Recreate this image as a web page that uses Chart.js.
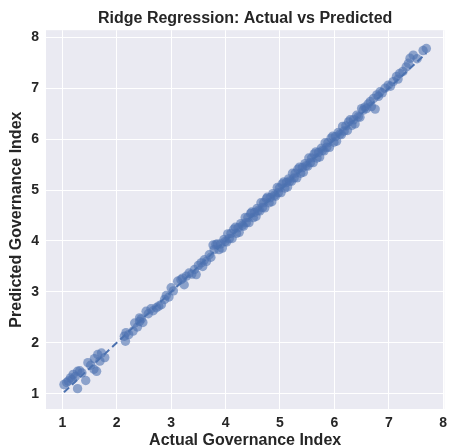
<!DOCTYPE html>
<html>
<head>
<meta charset="utf-8">
<script src="https://cdn.jsdelivr.net/npm/chart.js@4"></script>
<style>
  body { margin: 0; background: #ffffff; }
</style>
</head>
<body>
<canvas id="ridgeChart" width="449" height="448"></canvas>
<script>
// data (aktual vs prediksi)
const actual = [
  1.03, 1.08, 1.11, 1.15, 1.18, 1.2, 1.24, 1.28, 1.32, 1.28, 1.36, 1.43, 1.47, 1.52, 1.58, 1.63, 1.59, 1.65, 1.69, 1.78, 1.72,
  2.14, 2.17, 2.16, 2.22, 2.3, 2.33, 2.38, 2.42, 2.45, 2.48, 2.42,
  2.54, 2.58, 2.63, 2.67, 2.73, 2.77, 2.82, 2.88, 2.91, 2.96, 3.0, 3.04, 3.12, 3.18, 3.24, 3.21, 3.28, 3.33, 3.38, 3.43, 3.46,
  3.5, 3.55, 3.58, 3.61, 3.65, 3.7, 3.73, 3.79, 3.82, 3.77, 3.85, 3.88, 3.91, 3.94, 3.97, 3.99,
  4.02, 4.04, 4.07, 4.1, 4.12, 4.15, 4.18, 4.2, 4.23, 4.25, 4.28, 4.31, 4.33, 4.36, 4.38, 4.41, 4.43, 4.46, 4.48,
  4.51, 4.53, 4.56, 4.58, 4.6, 4.63, 4.65, 4.68, 4.7, 4.72, 4.75, 4.77, 4.8, 4.82, 4.85, 4.87, 4.9, 4.92, 4.95, 4.97, 4.99,
  5.02, 5.04, 5.07, 5.09, 5.12, 5.14, 5.16, 5.18, 5.21, 5.23, 5.26, 5.28, 5.31, 5.33, 5.36, 5.38, 5.41, 5.43, 5.46, 5.48,
  5.51, 5.53, 5.56, 5.58, 5.61, 5.63, 5.66, 5.68, 5.71, 5.73, 5.76, 5.78, 5.81, 5.83, 5.86, 5.88, 5.91, 5.94, 5.97, 5.99,
  6.02, 6.04, 6.07, 6.1, 6.13, 6.15, 6.18, 6.21, 6.24, 6.26, 6.29, 6.32, 6.35, 6.38, 6.41, 6.44, 6.47, 6.5,
  6.53, 6.56, 6.59, 6.62, 6.66, 6.68, 6.72, 6.75, 6.78, 6.81, 6.84, 6.88, 6.93, 6.99,
  7.03, 7.08, 7.14, 7.17, 7.2, 7.26, 7.32, 7.36, 7.39, 7.45, 7.52, 7.63, 7.69
];
const predicted = [
  1.18, 1.22, 1.25, 1.31, 1.28, 1.38, 1.34, 1.44, 1.45, 1.1, 1.41, 1.26, 1.61, 1.56, 1.48, 1.44, 1.69, 1.77, 1.64, 1.71, 1.8,
  2.13, 2.2, 2.03, 2.16, 2.23, 2.39, 2.31, 2.42, 2.47, 2.4, 2.49,
  2.62, 2.57, 2.67, 2.63, 2.69, 2.72, 2.75, 2.85, 2.93, 2.9, 3.08, 3.02, 3.21, 3.24, 3.14, 3.27, 3.31, 3.37, 3.35, 3.44, 3.34,
  3.52, 3.57, 3.5, 3.63, 3.6, 3.73, 3.68, 3.83, 3.93, 3.92, 3.94, 3.83, 3.94, 3.86, 4.03, 3.99,
  3.98, 4.14, 4.05, 4.15, 4.05, 4.23, 4.27, 4.15, 4.26, 4.17, 4.34, 4.31, 4.29, 4.46, 4.36, 4.46, 4.36, 4.54, 4.57,
  4.46, 4.56, 4.48, 4.64, 4.6, 4.59, 4.75, 4.66, 4.75, 4.65, 4.83, 4.86, 4.75, 4.85, 4.77, 4.93, 4.9, 4.88, 5.05, 4.95, 5.04,
  4.95, 5.12, 5.16, 5.04, 5.15, 5.06, 5.22, 5.18, 5.17, 5.33, 5.24, 5.33, 5.24, 5.41, 5.45, 5.33, 5.44, 5.35, 5.52, 5.48,
  5.47, 5.63, 5.54, 5.63, 5.54, 5.71, 5.75, 5.63, 5.74, 5.65, 5.82, 5.78, 5.77, 5.93, 5.84, 5.93, 5.84, 6.02, 6.06, 5.94,
  6.05, 5.96, 6.13, 6.1, 6.09, 6.25, 6.16, 6.26, 6.17, 6.34, 6.38, 6.27, 6.38, 6.3, 6.47, 6.44, 6.43, 6.6,
  6.57, 6.63, 6.6, 6.69, 6.74, 6.64, 6.8, 6.59, 6.87, 6.84, 6.93, 6.91, 7.0, 7.06,
  7.04, 7.13, 7.23, 7.18, 7.29, 7.33, 7.42, 7.49, 7.59, 7.65, 7.58, 7.74, 7.78
];

// garis ideal y = x
const idealLine = [1.03, 7.69];

// label sumbu
const xTicks = [1, 2, 3, 4, 5, 6, 7, 8];
const yTicks = [1, 2, 3, 4, 5, 6, 7, 8];

const fontFamily = "'Liberation Sans', Arial, sans-serif";
const textColor = "#262626";

// gabungkan titik untuk scatter
const points = actual.map((a, i) => ({ x: a, y: predicted[i] }));
const linePoints = idealLine.map((v) => ({ x: v, y: v }));

// latar belakang abu-abu seaborn
const plotBackground = {
  id: "plotBackground",
  beforeDraw(chart) {
    const { ctx, chartArea } = chart;
    ctx.save();
    ctx.fillStyle = "#EAEAF2";
    ctx.fillRect(chartArea.left, chartArea.top, chartArea.right - chartArea.left, chartArea.bottom - chartArea.top);
    ctx.restore();
  },
};

const ctx = document.getElementById("ridgeChart").getContext("2d");

new Chart(ctx, {
  type: "scatter",
  data: {
    datasets: [
      {
        label: "Prediksi",
        data: points,
        backgroundColor: "rgba(76, 114, 176, 0.6)",
        borderWidth: 0,
        pointRadius: 4.7,
        pointHoverRadius: 4.7,
        order: 2,
      },
      {
        type: "line",
        label: "Ideal",
        data: linePoints,
        borderColor: "#4C72B0",
        borderWidth: 2,
        borderDash: [7, 4],
        pointRadius: 0,
        fill: false,
        order: 1,
      },
    ],
  },
  options: {
    responsive: false,
    animation: false,
    layout: { padding: { right: 4 } },
    plugins: {
      legend: { display: false },
      tooltip: { enabled: false },
      title: {
        display: true,
        text: "Ridge Regression: Actual vs Predicted",
        color: textColor,
        fullSize: false,
        font: { family: fontFamily, size: 16, weight: "bold" },
        padding: { top: 9, bottom: 2 },
      },
    },
    scales: {
      x: {
        type: "linear",
        min: 0.7,
        max: 8.02,
        afterBuildTicks: (axis) => {
          axis.ticks = xTicks.map((v) => ({ value: v }));
        },
        afterFit: (axis) => {
          axis.height = 39;
          axis.paddingLeft = 0;
          axis.paddingRight = 0;
        },
        grid: { color: "#ffffff", lineWidth: 1, drawTicks: false },
        border: { display: false },
        ticks: {
          color: textColor,
          padding: 6,
          font: { family: fontFamily, size: 14, weight: "bold" },
        },
        title: {
          display: true,
          text: "Actual Governance Index",
          color: textColor,
          font: { family: fontFamily, size: 16, weight: "bold" },
          padding: { top: 0, bottom: -2 },
        },
      },
      y: {
        type: "linear",
        min: 0.7,
        max: 8.14,
        afterBuildTicks: (axis) => {
          axis.ticks = yTicks.map((v) => ({ value: v }));
        },
        afterFit: (axis) => {
          axis.width = 46;
          axis.paddingTop = 0;
          axis.paddingBottom = 0;
        },
        grid: { color: "#ffffff", lineWidth: 1, drawTicks: false },
        border: { display: false },
        ticks: {
          color: textColor,
          padding: 7,
          font: { family: fontFamily, size: 14, weight: "bold" },
        },
        title: {
          display: true,
          text: "Predicted Governance Index",
          color: textColor,
          font: { family: fontFamily, size: 16, weight: "bold" },
          padding: { top: 7, bottom: 0 },
        },
      },
    },
  },
  plugins: [plotBackground],
});
</script>
</body>
</html>
